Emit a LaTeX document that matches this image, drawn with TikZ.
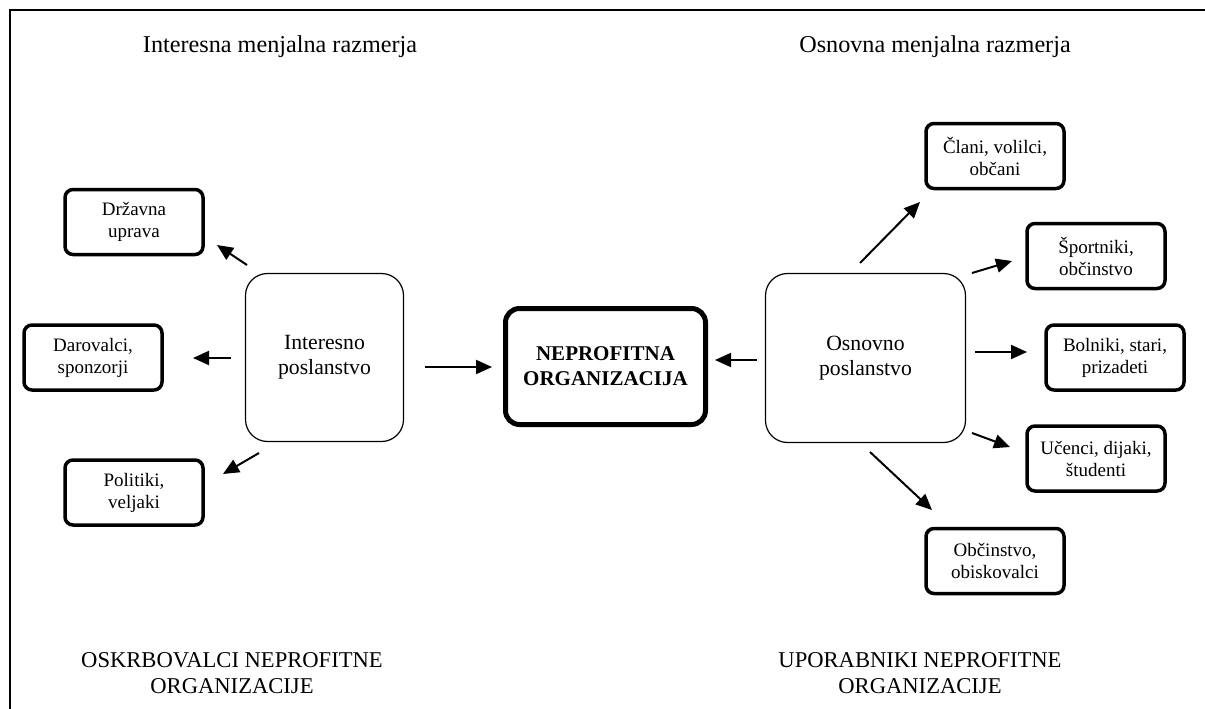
\documentclass[tikz,border=0pt]{standalone}
\usepackage{fontspec}
\setmainfont{Liberation Serif}
\usetikzlibrary{arrows.meta}
\begin{document}
\begin{tikzpicture}[x=1pt,y=-1pt,
  smallbox/.style={draw, line width=3.5pt, rounded corners=8pt, minimum width=138pt, minimum height=65pt, align=center, font=\fontsize{19}{22}\selectfont, inner sep=0pt},
  bigbox/.style={draw, line width=1.2pt, rounded corners=22pt, align=center, font=\fontsize{21.7}{25}\selectfont, inner sep=0pt},
  corebox/.style={draw, line width=5pt, rounded corners=14pt, minimum width=200pt, minimum height=116pt, align=center, font=\fontsize{21}{25}\selectfont\bfseries, inner sep=0pt},
  arr/.style={line width=2pt, -{Triangle[length=16pt,width=14pt]}},
  title/.style={font=\fontsize{24.2}{26}\selectfont, align=center, inner sep=0pt}
]
\useasboundingbox (0,0) rectangle (1205,709);
% frame
\draw[line width=2.5pt] (10,709) -- (10,10) -- (1205,10);

% titles
\node[title] (tl) at (280,47) {Interesna menjalna razmerja};
\node[title] (tr) at (935,47) {Osnovna menjalna razmerja};
\node[title, font=\fontsize{22.6}{26}\selectfont] (bl) at (232,673) {OSKRBOVALCI NEPROFITNE\\ORGANIZACIJE};
\node[title, font=\fontsize{22.6}{26}\selectfont] (br) at (920,673) {UPORABNIKI NEPROFITNE\\ORGANIZACIJE};

% left boxes
\node[smallbox] (drz) at (134,222) {Državna\\uprava};
\node[smallbox] (dar) at (93,357.5) {Darovalci,\\sponzorji};
\node[smallbox] (pol) at (134,492.5) {Politiki,\\veljaki};

% big boxes
\node[bigbox, minimum width=158pt, minimum height=168pt] (int) at (324.5,357.5) {Interesno\\poslanstvo};
\node[corebox] (npo) at (605.5,366.5) {NEPROFITNA\\ORGANIZACIJA};
\node[bigbox, minimum width=200pt, minimum height=169pt] (osn) at (865.5,358) {Osnovno\\poslanstvo};

% right boxes
\node[smallbox] (cla) at (995,156) {Člani, volilci,\\občani};
\node[smallbox] (spo) at (1096,256) {Športniki,\\občinstvo};
\node[smallbox] (bol) at (1115,357.5) {Bolniki, stari,\\prizadeti};
\node[smallbox] (uce) at (1096,458.5) {Učenci, dijaki,\\študenti};
\node[smallbox] (obc) at (995,561) {Občinstvo,\\obiskovalci};

% arrow end points
\coordinate (a1s) at (247,265);  \coordinate (a1e) at (217,245);
\coordinate (a2s) at (231,358);  \coordinate (a2e) at (193,358);
\coordinate (a3s) at (259,453);  \coordinate (a3e) at (223,474);
\coordinate (a4s) at (425,367);  \coordinate (a4e) at (492,367);
\coordinate (a5s) at (757,360);  \coordinate (a5e) at (715,360);
\coordinate (a6s) at (860,263);  \coordinate (a6e) at (920,202);
\coordinate (a7s) at (972,273);  \coordinate (a7e) at (1012,261);
\coordinate (a8s) at (975,352);  \coordinate (a8e) at (1027,352);
\coordinate (a9s) at (972,433);  \coordinate (a9e) at (1010,447);
\coordinate (a10s) at (870,452); \coordinate (a10e) at (932,510);

\foreach \i in {1,...,10} {\draw[arr] (a\i s) -- (a\i e);}
\end{tikzpicture}
\end{document}
